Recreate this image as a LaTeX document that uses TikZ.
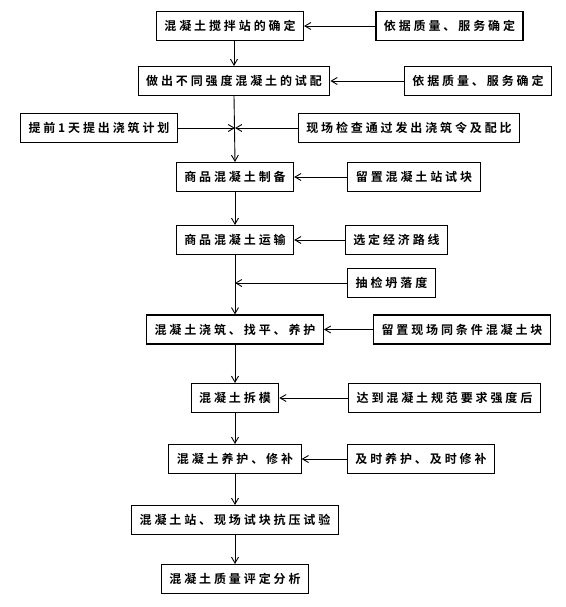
\documentclass[tikz,border=0pt]{standalone}
\usepackage{fontspec}
\usepackage{tikz}
\usetikzlibrary{arrows.meta,positioning,calc}
\newfontfamily\cjk{Noto Sans CJK SC Bold}[LetterSpace=24]
\tikzset{
  stepbox/.style={draw,line width=1.1pt,font=\cjk\fontsize{12}{14}\selectfont,
    minimum height=29pt,inner xsep=8pt,inner ysep=0pt},
  flow/.style={line width=0.9pt,-{Straight Barb[length=6pt,width=7pt,line width=0.9pt]}}
}
\begin{document}
\begin{tikzpicture}[x=1pt,y=-1pt]
\useasboundingbox (0,0) rectangle (565,607);
% main chain
\node[stepbox] (m1) at (230,26) {混凝土搅拌站的确定};
\node[stepbox] (m2) at (234,81) {做出不同强度混凝土的试配};
\node[stepbox] (m4) at (235,177) {商品混凝土制备};
\node[stepbox] (m5) at (235,240) {商品混凝土运输};
\node[stepbox] (m6) at (235,329.5) {混凝土浇筑、找平、养护};
\node[stepbox] (m7) at (235,398) {混凝土拆模};
\node[stepbox] (m8) at (235,459) {混凝土养护、修补};
\node[stepbox] (m9) at (235,520) {混凝土站、现场试块抗压试验};
\node[stepbox] (m10) at (235,579) {混凝土质量评定分析};
% side boxes
\node[stepbox] (r1) at (449.5,26) {依据质量、服务确定};
\node[stepbox] (r2) at (478,81) {依据质量、服务确定};
\node[stepbox] (l3) at (99,128) {提前1天提出浇筑计划};
\node[stepbox] (r3) at (409,128) {现场检查通过发出浇筑令及配比};
\node[stepbox] (r4) at (414,177) {留置混凝土站试块};
\node[stepbox] (r5) at (396.5,240) {选定经济路线};
\node[stepbox] (r5b) at (391.5,283) {抽检坍落度};
\node[stepbox] (r6) at (462,329.5) {留置现场同条件混凝土块};
\node[stepbox] (r7) at (444.5,398) {达到混凝土规范要求强度后};
\node[stepbox] (r8) at (421,459) {及时养护、及时修补};
\coordinate (c3) at (m4.north |- l3.east);
\coordinate (c5) at (m5.south |- r5b.west);
% vertical flow
\draw[flow] (m2.north |- m1.south) -- (m2.north);
\draw[flow] (m2.south) -- (m4.north);
\foreach \a/\b in {m4/m5,m5/m6,m6/m7,m7/m8,m8/m9,m9/m10}
  \draw[flow] (\a.south) -- (\b.north);
% side flow
\foreach \a/\b in {r1/m1,r2/m2,r4/m4,r5/m5,r6/m6,r7/m7,r8/m8}
  \draw[flow] (\a.west) -- (\b.east);
\draw[flow] (l3.east) -- (c3);
\draw[flow] (r3.west) -- (c3);
\draw[flow] (r5b.west) -- (c5);
\end{tikzpicture}
\end{document}
